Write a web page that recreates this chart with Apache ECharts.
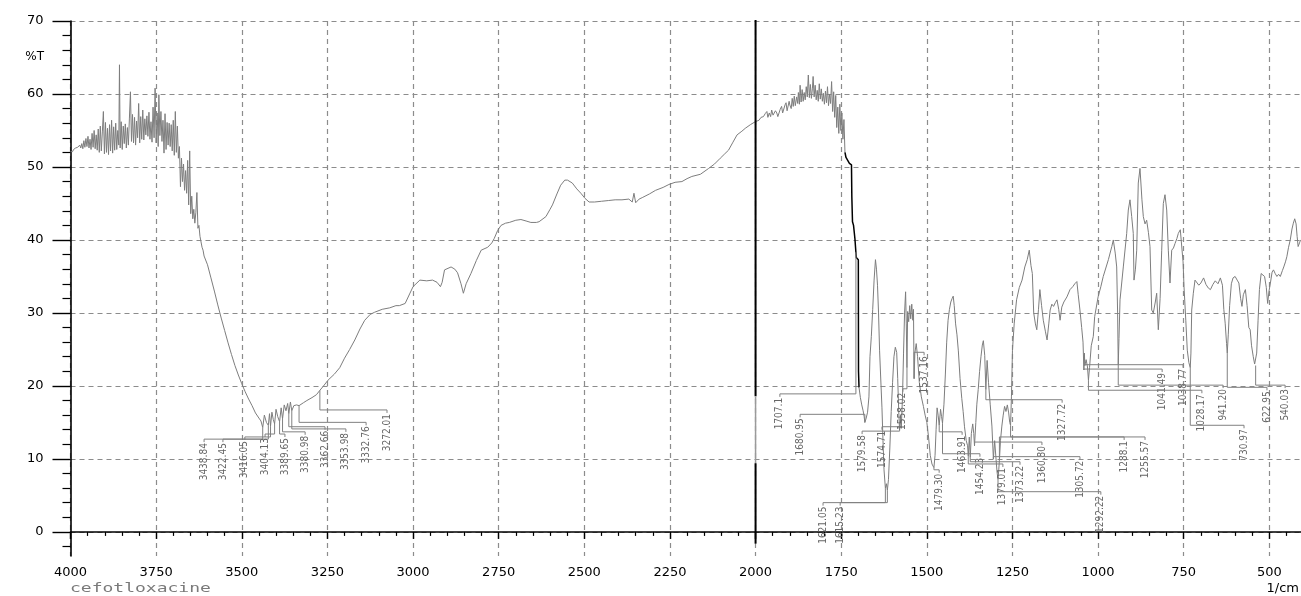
<!DOCTYPE html>
<html>
<head>
<meta charset="utf-8">
<title>cefotloxacine IR spectrum</title>
<script src="https://cdn.jsdelivr.net/npm/echarts@6/dist/echarts.min.js"></script>
<style>
  html, body { margin: 0; padding: 0; background: #ffffff; }
  #chart { width: 1301px; height: 596px; }
</style>
</head>
<body>
<div id="chart"></div>
<script>
// Spectrum as [wavenumber (1/cm), transmittance (%T)] pairs, high to low wavenumber.
const highRegion = [
  [4000,52.1],[3997,52.2],[3994,52.1],[3991,52.4],[3988,52.3],[3985,52.6],[3982,52.4],[3979,52.7],
  [3976,52.5],[3973,53.0],[3970,52.6],[3967,53.2],[3964,52.5],[3961,53.6],[3958,52.7],[3955,53.9],
  [3952,52.8],[3949,54.2],[3946,52.6],[3943,53.8],[3940,52.4],[3937,54.6],[3934,52.7],[3931,55.0],
  [3928,52.5],[3925,54.4],[3922,52.3],[3919,55.2],[3916,52.0],[3913,55.6],[3910,52.2],[3907,54.8],
  [3904,57.6],[3901,51.8],[3898,56.1],[3895,52.0],[3892,55.3],[3889,51.7],[3886,55.8],[3883,52.2],
  [3880,56.4],[3877,51.9],[3874,55.5],[3871,52.3],[3868,56.0],[3865,52.4],[3862,55.0],[3859,53.0],
  [3857,64.0],[3855,52.6],[3852,56.2],[3849,52.4],[3846,55.6],[3843,53.2],[3840,55.9],[3837,52.6],
  [3834,55.4],[3831,53.0],[3828,56.7],[3825,60.3],[3822,53.5],[3819,57.2],[3816,53.3],[3813,56.8],
  [3810,53.0],[3807,56.3],[3804,54.0],[3801,58.7],[3798,53.3],[3795,56.9],[3792,53.8],[3789,57.8],
  [3786,53.7],[3783,56.6],[3780,54.4],[3777,57.0],[3774,54.2],[3771,57.5],[3768,53.8],[3765,56.2],
  [3762,53.4],[3759,58.2],[3756,54.0],[3753,60.8],[3750,53.3],[3747,57.4],[3744,52.8],[3742,59.9],
  [3739,54.3],[3736,57.6],[3733,53.5],[3730,56.4],[3727,51.9],[3724,57.3],[3721,52.4],[3718,56.1],
  [3715,53.0],[3712,56.0],[3709,52.8],[3706,55.8],[3703,52.2],[3700,56.4],[3697,51.6],[3694,57.6],
  [3691,52.0],[3688,55.6],[3685,51.2],[3682,52.8],[3679,47.3],[3676,51.2],[3673,48.0],[3670,50.4],
  [3667,46.8],[3664,49.5],[3661,46.4],[3658,50.9],[3655,44.8],[3652,52.2],[3649,43.6],[3646,46.0],
  [3643,42.9],[3640,44.2],[3637,42.3],[3634,43.8],[3631,46.5],[3628,41.6],[3625,42.0],[3622,40.5],
  [3619,40.4],[3616,39.0],[3613,38.6],[3610,37.8]
];

const broadBand = [
  [3600,36.6],[3590,34.8],[3580,33.0],[3570,31.1],[3560,29.3],[3550,27.6],[3540,25.9],[3530,24.3],
  [3520,22.8],[3510,21.5],[3500,20.3],[3490,19.2],[3480,18.2],[3470,17.3],[3460,16.3],[3450,15.6],
  [3444,15.2],[3438.84,14.3],[3434,16.0],[3428,15.0],[3422.45,14.6],[3419,16.2],[3416.05,14.5],
  [3412,16.4],[3408,15.4],[3404.13,14.8],[3400,16.8],[3395,15.8],[3389.65,15.1],[3385,17.0],
  [3380.98,15.5],[3376,17.4],[3371,16.6],[3366,17.6],[3362.66,16.2],[3358,17.8],[3353.98,16.6],
  [3348,17.3],[3340,17.4],[3332.76,17.3],[3320,17.7],[3310,18.0],[3295,18.4],[3282,18.8],
  [3272.01,19.4],[3263,19.9],[3248,20.8],[3230,21.6],[3214,22.5],[3200,23.8],[3185,25.0],
  [3170,26.3],[3155,27.8],[3141,29.0],[3125,29.8],[3112,30.1],[3090,30.5],[3068,30.7],[3050,31.0],
  [3040,31.0],[3023,31.3],[3010,32.6],[3000,33.6],[2980,34.5],[2960,34.4],[2943,34.5],[2930,34.2],
  [2920,33.6],[2915,34.2],[2908,35.9],[2889,36.3],[2878,36.0],[2870,35.5],[2860,34.0],[2853,32.7],
  [2845,34.0],[2831,35.4],[2815,37.2],[2801,38.6],[2782,39.0],[2770,39.6],[2763,40.2],[2753,41.3],
  [2743,42.0],[2730,42.3],[2719,42.4],[2700,42.7],[2685,42.8],[2670,42.6],[2656,42.4],[2640,42.4],
  [2632,42.5],[2612,43.2],[2600,44.2],[2593,44.8],[2580,46.3],[2569,47.5],[2557,48.2],[2549,48.2],
  [2535,47.8],[2522,47.0],[2510,46.4],[2498,45.7],[2486,45.2],[2470,45.2],[2450,45.3],[2430,45.4],
  [2410,45.5],[2390,45.5],[2370,45.6],[2360,45.2],[2355,46.4],[2350,45.1],[2340,45.6],[2331,45.8],
  [2310,46.3],[2292,46.8],[2270,47.2],[2253,47.6],[2235,47.9],[2215,48.0],[2200,48.4],[2186,48.7],
  [2161,49.0],[2137,49.8],[2120,50.4],[2103,51.2],[2090,51.8],[2079,52.3],[2066,53.4],[2054,54.4],
  [2040,54.9],[2030,55.3],[2015,55.8],[2001,56.2]
];

const upperNoise = [
  [1990,56.4],[1984,56.8],[1977,56.9],[1972,57.3],[1967,57.6],[1964,56.8],[1960,57.4],[1956,56.9],
  [1953,57.8],[1949,57.1],[1946,57.0],[1942,57.7],[1938,57.4],[1935,56.9],[1932,56.8],[1928,57.9],
  [1924,58.3],[1921,57.4],[1917,57.6],[1914,58.5],[1911,58.8],[1908,57.7],[1905,57.9],[1902,59.0],
  [1900,58.5],[1896,58.0],[1893,59.4],[1890,58.3],[1887,59.7],[1884,58.4],[1880,59.6],[1877,58.7],
  [1875,60.2],[1872,58.6],[1870,61.2],[1867,58.9],[1864,60.6],[1861,59.0],[1858,60.2],[1855,59.2],
  [1852,61.0],[1849,59.6],[1846,62.6],[1843,59.5],[1840,61.3],[1837,59.4],[1834,60.8],[1832,62.4],
  [1829,59.6],[1826,61.2],[1823,59.2],[1820,60.5],[1817,59.0],[1814,61.4],[1811,59.3],[1808,60.7],
  [1805,59.0],[1802,60.1],[1799,58.6],[1796,60.4],[1793,58.8],[1790,61.0],[1787,58.4],[1784,60.0],
  [1781,58.7],[1778,61.7],[1775,57.6],[1772,60.3],[1769,56.8],[1766,59.8],[1763,55.4],[1760,58.2],
  [1757,54.6],[1754,58.6],[1751,55.0],[1748,57.4],[1745,53.8],[1742,56.5],[1739,52.0]
];

// Carbonyl edge, drawn in black.
const carbonylEdge = [
  [1739,52.0],[1736,51.3],[1731,50.9],[1726,50.5],[1720,50.3],[1719,46.0],[1717,42.5],[1714,42.0],
  [1710,40.2],[1706,37.6],[1700,37.3],[1699.5,22.0],[1698,19.8]
];

const fingerprint = [
  [1698,19.8],[1694,18.4],[1690,17.4],[1686,16.6],[1683,15.8],[1680.95,15.0],[1677,15.6],[1673,16.4],
  [1669,18.5],[1666,24.0],[1662,26.8],[1658,30.5],[1654,34.5],[1650,37.3],[1647,36.0],[1644,33.8],
  [1641,30.0],[1638,24.9],[1635,21.5],[1631,17.0],[1628,12.5],[1625,8.5],[1621.05,6.0],[1618,6.6],
  [1615.23,5.7],[1612,7.2],[1608,11.5],[1604,16.5],[1600,20.5],[1596,24.0],[1592,25.3],[1588,24.6],
  [1585,21.0],[1582,16.5],[1579.58,13.9],[1577,15.8],[1574.71,14.2],[1571,18.5],[1568,24.5],
  [1565,30.0],[1562,32.9],[1560,28.5],[1558.02,22.5],[1556,30.2],[1553,28.8],[1550,31.0],[1547,29.2],
  [1544,31.2],[1541,29.0],[1539,30.5],[1537.16,21.0],[1535,24.5],[1531,25.8],[1527,24.0],[1522,20.5],
  [1516,18.5],[1510,17.2],[1505,16.0],[1500,15.0],[1495,13.0],[1490,10.5],[1485,9.3],[1479.30,8.8],
  [1476,10.5],[1473,14.0],[1470,17.0],[1467,16.0],[1463.91,14.6],[1460,16.8],[1457,15.8],
  [1454.23,14.9],[1450,17.5],[1446,21.5],[1442,26.0],[1438,29.0],[1434,30.5],[1430,31.5],[1426,32.0],
  [1423,32.3],[1420,31.0],[1416,28.5],[1412,27.0],[1408,24.8],[1403,21.0],[1398,18.3],[1394,16.5],
  [1390,14.4],[1385,12.5],[1381,11.8],[1379.01,10.4],[1376,13.0],[1373.22,10.2],[1370,13.5],
  [1366,14.8],[1363,13.5],[1360.80,11.8],[1357,15.0],[1354,17.5],[1350,19.5],[1346,22.0],[1342,24.0],
  [1338,25.6],[1335,26.2],[1331,24.2],[1327.72,19.5],[1324,23.5],[1320,20.5],[1315,17.5],[1310,14.5],
  [1305.72,10.0],[1302,12.5],[1298,10.0],[1295,8.2],[1292.22,7.2],[1290,8.5],[1288.1,9.8],[1285,12.5],
  [1281,14.5],[1277,16.0],[1273,17.2],[1269,16.5],[1265,17.4],[1261,16.3],[1258,15.0],[1255.57,14.6],
  [1253,18.5],[1250,24.9],[1245,28.5],[1238,31.8],[1230,33.5],[1222,34.5],[1214,36.3],[1207,37.3],
  [1201,38.6],[1196,36.5],[1192,35.4],[1188,30.0],[1183,28.5],[1179,27.7],[1174,30.5],[1170,33.2],
  [1165,31.0],[1160,29.0],[1154,27.5],[1149,26.3],[1144,28.5],[1140,30.4],[1135,31.2],[1130,30.9],
  [1125,31.4],[1120,31.8],[1115,30.5],[1111,29.0],[1106,30.8],[1100,31.5],[1091,32.2],[1082,33.2],
  [1074,33.6],[1068,34.0],[1062,34.3],[1058,32.5],[1053,30.4],[1048,28.0],[1044,26.0],[1041.49,22.2],
  [1040,24.5],[1038.77,22.8],[1035,23.6],[1031,22.6],[1028.17,20.8],[1025,22.5],[1020,25.5],
  [1014,26.8],[1010,29.5],[1000,32.2],[992,33.6],[985,35.0],[970,37.3],[960,39.1],[955.6,40.0],
  [950,38.2],[945.7,36.3],[943,30.0],[941.20,22.9],[939,26.5],[936,31.8],[926.4,36.3],[916.5,40.9],
  [911.8,44.1],[906.9,45.5],[901.9,43.2],[897.3,40.9],[895.2,34.5],[891,36.0],[887.3,38.6],
  [882.7,47.8],[877.7,49.8],[872,45.5],[868,43.2],[863,42.2],[858.2,42.7],[853,41.0],[848.5,39.1],
  [843.5,30.4],[838.9,30.0],[833,31.5],[829,32.7],[824.2,27.7],[819,32.0],[814.3,38.6],[809.6,45.0],
  [804.7,46.2],[799.7,44.1],[795,38.6],[790.1,34.1],[785.1,38.6],[780,38.9],[775.5,39.5],[770,40.2],
  [765.8,40.9],[760,41.4],[755.9,41.6],[752,37.0],[749.2,33.6],[744,29.0],[739.6,24.9],[735,23.2],
  [730.97,22.5],[729,24.5],[726.7,30.4],[722,32.7],[717.1,34.5],[713,34.3],[706,33.8],[700,34.1],
  [692,34.8],[685,33.9],[678,33.4],[672,33.2],[665,33.9],[658,34.4],[650,34.0],[643,34.8],[637,33.8],
  [633,30.5],[629,28.6],[625,25.8],[622.95,24.5],[620,27.0],[616,31.0],[611,34.0],[606,34.8],
  [600,35.0],[594,34.5],[589,34.1],[584,32.0],[580,30.9],[576,32.5],[570,33.2],[565,31.0],[560,28.0],
  [556,27.7],[552,25.5],[547,24.0],[543,23.0],[540.03,22.8],[537,24.5],[533,29.0],[529,33.2],
  [524,35.4],[519,35.2],[514,35.0],[509,33.5],[505,31.3],[501,33.0],[497,34.1],[492,35.6],[488,35.9],
  [483,35.4],[478,35.0],[473,35.3],[468,35.0],[462,35.8],[458,36.3],[453,37.0],[449,37.7],[444,39.0],
  [439,40.0],[434,41.5],[430,42.3],[426,42.9],[422,42.2],[419,40.5],[416,39.1],[412,39.6],[409,40.0]
];

// Picked peaks (text as printed) and where each label column sits, in [1/cm, %T].
const peakLabels = [
  '3438.84','3422.45','3416.05','3404.13','3389.65','3380.98','3362.66','3353.98','3332.76','3272.01',
  '1707.1','1680.95','1621.05','1615.23','1579.58','1574.71','1558.02','1537.16','1479.30','1463.91',
  '1454.23','1379.01','1373.22','1360.80','1327.72','1305.72','1292.22','1288.1','1255.57',
  '1041.49','1038.77','1028.17','941.20','730.97','622.95','540.03'
];
const labelAnchors = [
  [3610,12.3],[3555,12.3],[3491,12.6],[3432,13.0],[3374,13.0],[3315,13.3],[3257,14.0],[3196,13.7],
  [3137,14.6],[3076,16.3],
  [1929,18.5],[1870,15.7],[1803,3.6],[1753,3.6],[1689,13.4],[1631,14.0],[1570,19.2],[1508,24.2],
  [1464,8.1],[1397,13.3],[1345,10.3],[1278,8.9],[1228,9.2],[1164,11.9],[1105,17.7],[1053,9.9],
  [992,5.1],[924,12.6],[863,12.6],
  [813,21.9],[752,22.5],[697,19.0],[635,19.7],[574,14.2],[507,19.4],[454,19.7]
];

// Axis ticks
const majorYTicks = [0, 10, 20, 30, 40, 50, 60, 70];
const minorYTicks = [-2, 2, 4, 6, 8, 12, 14, 16, 18, 22, 24, 26, 28, 32, 34, 36, 38,
  42, 44, 46, 48, 52, 54, 56, 58, 62, 64, 66, 68];

// Vertical marker at 2000 1/cm: black, gray, black pieces
const markerWn = 2000;
const markerBreaks = [70.4, 18.6, 9.4, -1.6];

const fullSpectrum = highRegion.concat(broadBand, upperNoise, carbonylEdge, fingerprint);

function transmittanceAt(wn) {
  for (let i = 1; i < fullSpectrum.length; i++) {
    const [w0, t0] = fullSpectrum[i - 1];
    const [w1, t1] = fullSpectrum[i];
    if (wn <= w0 && wn >= w1) {
      return w0 === w1 ? t1 : t0 + (t1 - t0) * (w0 - wn) / (w0 - w1);
    }
  }
  return null;
}

const labelData = peakLabels.map((label, i) => {
  const wn = parseFloat(label);
  return [wn, transmittanceAt(wn), labelAnchors[i][0], labelAnchors[i][1]];
});

const curveGray = '#7d7d7d';
const gridGray = '#8c8c8c';
const tickFont = 'DejaVu Sans';

const chart = echarts.init(document.getElementById('chart'), null, { renderer: 'canvas' });

// The axis runs on to 250 1/cm, past the right edge of the page, so the visible
// part ends near 408 1/cm while ticks stay on multiples of 250.
chart.setOption({
  animation: false,
  backgroundColor: '#ffffff',
  grid: { left: 70.5, width: 1284.5, top: 21, height: 535, containLabel: false, outerBoundsMode: 'none' },
  xAxis: {
    type: 'value', inverse: true, min: 250, max: 4000, interval: 250,
    axisLine: { lineStyle: { color: '#000', width: 1.6 } },
    axisTick: { length: 7, lineStyle: { color: '#000', width: 1.4 } },
    minorTick: { show: true, splitNumber: 5, length: 4, lineStyle: { color: '#000', width: 1.2 } },
    axisLabel: {
      color: '#000', fontSize: 13, fontFamily: tickFont, margin: 10,
      formatter: v => (v < 400 ? '' : String(v))
    },
    splitLine: { show: true, lineStyle: { color: gridGray, width: 1.2, type: [5, 4] } },
    minorSplitLine: { show: false }
  },
  yAxis: [
    {
      type: 'value', min: -3.3, max: 70, splitNumber: 7, position: 'left',
      axisLine: { show: true, lineStyle: { color: '#000', width: 1.6 } },
      axisTick: { show: true, length: 18, customValues: majorYTicks, lineStyle: { color: '#000', width: 1.4 } },
      minorTick: { show: false },
      axisLabel: { color: '#000', fontSize: 13, fontFamily: tickFont, margin: 27, customValues: majorYTicks },
      splitLine: { show: true, lineStyle: { color: gridGray, width: 1.2, type: [5, 4] } }
    },
    {
      type: 'value', min: -3.3, max: 70, position: 'left',
      axisLine: { show: false },
      axisTick: { show: true, length: 8, customValues: minorYTicks, lineStyle: { color: '#000', width: 1.2 } },
      axisLabel: { show: false },
      splitLine: { show: false }
    }
  ],
  graphic: [
    { type: 'text', x: 44, y: 57, style: { text: '%T', align: 'right', verticalAlign: 'middle', font: '12px "DejaVu Sans"', fill: '#000' } },
    { type: 'text', x: 70, y: 589, scaleX: 1.5, style: { text: 'cefotloxacine', align: 'left', verticalAlign: 'middle', font: '12px "DejaVu Sans Mono"', fill: '#7a7a7a' } },
    { type: 'text', x: 1299, y: 589, style: { text: '1/cm', align: 'right', verticalAlign: 'middle', font: '13px "DejaVu Sans"', fill: '#000' } }
  ],
  series: [
    {
      name: 'spectrum', type: 'line', showSymbol: false, symbol: 'none', z: 3,
      data: highRegion.concat(broadBand, upperNoise),
      lineStyle: { color: curveGray, width: 1 }
    },
    {
      name: 'carbonyl edge', type: 'line', showSymbol: false, symbol: 'none', z: 4,
      data: carbonylEdge,
      lineStyle: { color: '#000', width: 1.5 }
    },
    {
      name: 'fingerprint', type: 'line', showSymbol: false, symbol: 'none', z: 3,
      data: fingerprint,
      lineStyle: { color: curveGray, width: 1 }
    },
    {
      name: 'marker top', type: 'line', showSymbol: false, symbol: 'none', z: 5,
      data: [[markerWn, markerBreaks[0]], [markerWn, markerBreaks[1]]],
      lineStyle: { color: '#000', width: 2 }
    },
    {
      name: 'marker mid', type: 'line', showSymbol: false, symbol: 'none', z: 5,
      data: [[markerWn, markerBreaks[1]], [markerWn, markerBreaks[2]]],
      lineStyle: { color: '#9a9a9a', width: 1.5 }
    },
    {
      name: 'marker bottom', type: 'line', showSymbol: false, symbol: 'none', z: 5,
      data: [[markerWn, markerBreaks[2]], [markerWn, markerBreaks[3]]],
      lineStyle: { color: '#000', width: 2 }
    },
    {
      name: 'peak labels', type: 'custom', z: 6, clip: false,
      data: labelData,
      encode: { x: 0, y: 1 },
      renderItem: function (params, api) {
        const peak = api.coord([api.value(0), api.value(1)]);
        const anchor = api.coord([api.value(2), api.value(3)]);
        const leadY = anchor[1] - 3;
        return {
          type: 'group',
          children: [
            {
              type: 'polyline',
              shape: { points: [peak, [peak[0], leadY], [anchor[0], leadY], [anchor[0], anchor[1]]] },
              style: { stroke: '#808080', lineWidth: 1, fill: null }
            },
            {
              type: 'text',
              x: anchor[0], y: anchor[1] + 1,
              rotation: Math.PI / 2,
              style: {
                text: peakLabels[params.dataIndex],
                align: 'right', verticalAlign: 'middle',
                fill: '#666666',
                font: "10px 'Liberation Sans Narrow', 'DejaVu Sans Condensed', 'Liberation Sans', sans-serif"
              }
            }
          ]
        };
      }
    }
  ]
});
</script>
</body>
</html>
